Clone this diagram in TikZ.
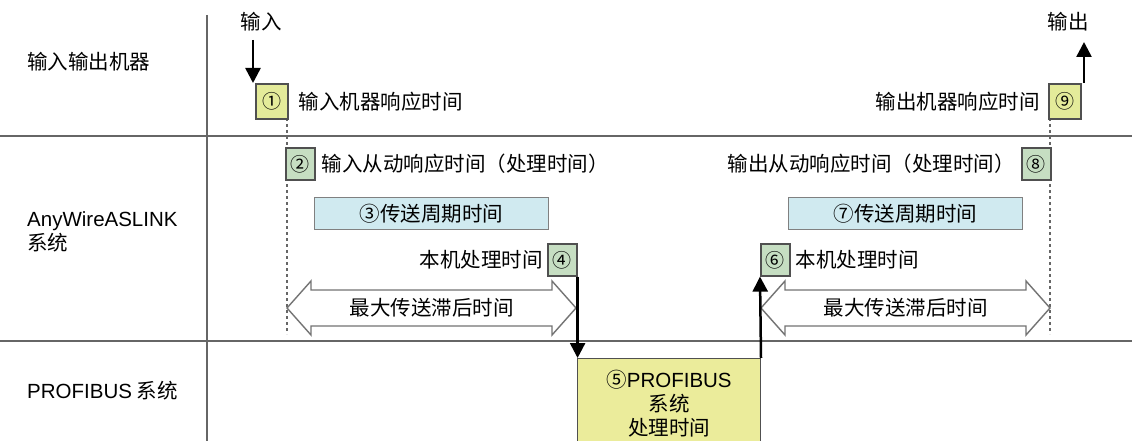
\documentclass[tikz,border=0pt]{standalone}
\usepackage{fontspec}
\setmainfont{Noto Sans CJK SC}
\newfontfamily\latin{Liberation Sans}
\usetikzlibrary{arrows.meta,positioning}

\definecolor{boxyellow}{HTML}{E4EB9A}
\definecolor{pbyellow}{HTML}{EBEC9B}
\definecolor{boxgreen}{HTML}{C6DEC2}
\definecolor{cyclecyan}{HTML}{D0EAF0}
\definecolor{boxedge}{HTML}{505050}

\tikzset{
  rule/.style={draw=black!60, line width=2pt},
  guide/.style={draw=black!60, line width=1.8pt, dash pattern=on 3pt off 3pt},
  rowlabel/.style={anchor=west, inner sep=0pt, align=left},
  lbl/.style={inner sep=0pt},
  numbox/.style={draw=boxedge, line width=1.6pt, anchor=north west, inner sep=0pt,
    minimum width=29pt, minimum height=32pt, font=\fontsize{19}{19}\selectfont},
  cyclebox/.style={draw=black!50, line width=1.4pt, fill=cyclecyan, anchor=north west,
    inner sep=0pt, minimum width=234pt, minimum height=32pt},
  lag/.style={draw=black!55, line width=1.4pt, fill=white},
  sig/.style={line width=2.5pt, -{Triangle[length=15pt,width=15pt]}}
}

\begin{document}
\begin{tikzpicture}[x=1pt, y=-1pt, font=\fontsize{20.5}{24}\selectfont]
	\useasboundingbox (0,0) rectangle (1132,441);

	% frame
	\draw[rule] (207,15) -- (207,441);
	\draw[rule] (0,136) -- (1132,136);
	\draw[rule] (0,341) -- (1132,341);

	% rows
	\node[rowlabel] (io) at (27,62) {输入输出机器};
	\node[rowlabel] (asl) at (27,232) {{\latin AnyWireASLINK}\\系统};
	\node[rowlabel] (pb) at (27,391) {{\latin PROFIBUS} 系统};

	% guides
	\draw[guide] (287,118) -- (287,334);
	\draw[guide] (1050,118) -- (1050,334);

	% input side
	\node[numbox, fill=boxyellow, minimum width=32pt, minimum height=35pt] (b1) at (255,83) {①};
	\node[numbox, fill=boxgreen] (b2) at (285,147) {②};
	\node[cyclebox] (c3) at (314,197) {③传送周期时间};
	\node[numbox, fill=boxgreen] (b4) at (547,243) {④};

	\node[lbl, right=10pt of b1] (t1) {输入机器响应时间};
	\node[lbl, right=6pt of b2] (t2) {输入从动响应时间（处理时间）};
	\node[lbl, left=4pt of b4] (t4) {本机处理时间};

	% PROFIBUS
	\node[draw=boxedge, line width=1pt, fill=pbyellow, anchor=north west, inner sep=0pt,
		minimum width=183pt, minimum height=90pt, align=center] (b5) at (577,358)
		{⑤{\latin PROFIBUS}\\系统\\处理时间};

	% output side
	\node[numbox, fill=boxgreen] (b6) at (760,243) {⑥};
	\node[cyclebox] (c7) at (788,197) {⑦传送周期时间};
	\node[numbox, fill=boxgreen] (b8) at (1021,147) {⑧};
	\node[numbox, fill=boxyellow, minimum width=32pt, minimum height=35pt] (b9) at (1048,83) {⑨};

	\node[lbl, right=5pt of b6] (t6) {本机处理时间};
	\node[lbl, left=6pt of b8] (t8) {输出从动响应时间（处理时间）};
	\node[lbl, left=8pt of b9] (t9) {输出机器响应时间};

	% max lag
	\draw[lag] (287,308) -- (311,281) -- (311,290) -- (552,290) -- (552,281) -- (576,308)
		-- (552,335) -- (552,326) -- (311,326) -- (311,335) -- cycle;
	\node[lbl] (lag1) at (431.5,308) {最大传送滞后时间};
	\draw[lag] (761,308) -- (785,281) -- (785,290) -- (1026,290) -- (1026,281) -- (1050,308)
		-- (1026,335) -- (1026,326) -- (785,326) -- (785,335) -- cycle;
	\node[lbl] (lag2) at (905.5,308) {最大传送滞后时间};

	% signals
	\node[lbl] (inlbl) at (261,22) {输入};
	\node[lbl] (outlbl) at (1068,22) {输出};
	\coordinate (in) at (253,40);
	\coordinate (out) at (1084,42);
	\draw[sig] (in) -- (in |- b1.north);
	\draw[sig] (out |- b9.north) -- (out);
	\draw[sig] (b4.south east) -- (b4.south east |- b5.north);
	\draw[sig] (b5.north east) -- (b6.south west);
\end{tikzpicture}
\end{document}
